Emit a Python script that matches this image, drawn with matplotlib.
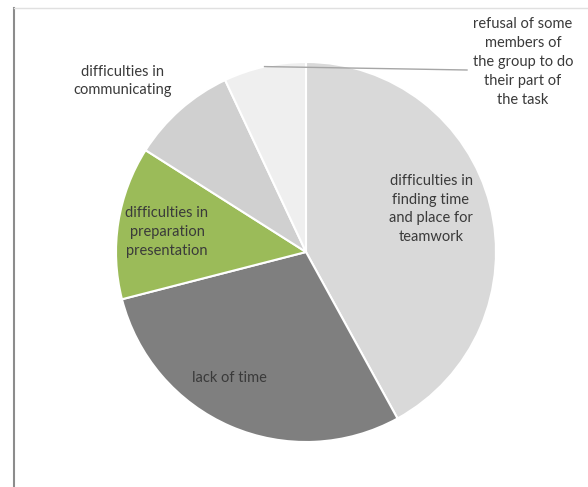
import matplotlib.pyplot as plt
import numpy as np

plt.rcParams['font.family'] = ['Lato', 'DejaVu Sans']

# Data (shares, percent)
categories = ['difficulties in\nfinding time\nand place for\nteamwork',
              'lack of time',
              'difficulties in\npreparation\npresentation',
              'difficulties in\ncommunicating',
              'refusal of some\nmembers of\nthe group to do\ntheir part of\nthe task']
shares = [42, 29, 13, 9, 7]
colors = ['#d9d9d9', '#7f7f7f', '#9bbb59', '#d0d0d0', '#efefef']

# Figure geometry in pixels
W, H = 588, 487
cx, cy, R = 306, 252, 190

fig = plt.figure(figsize=(W / 100, H / 100), dpi=100)
ax = fig.add_axes([0, 0, 1, 1])


def px(x, y):
    # pixel position -> data coords (pie radius = 1)
    return (x - cx) / R, (cy - y) / R


wedges, _ = ax.pie(shares, colors=colors, startangle=90, counterclock=False,
                   radius=1, wedgeprops=dict(edgecolor='white', linewidth=1.5))

ax.set_xlim(px(0, 0)[0], px(W, 0)[0])
ax.set_ylim(px(0, H)[1], px(0, 0)[1])
ax.set_aspect('auto')
ax.axis('off')

# label positions (pixels)
label_pos = [(431, 209), (229, 378), (167, 232), (123, 81), (523, 62)]
text_kw = dict(ha='center', va='center', fontsize=10.5, color='#3a3a3a',
               linespacing=1.45)
for lab, (x, y) in zip(categories, label_pos):
    ax.text(*px(x, y), lab, **text_kw)

# leader line for the small slice
w = wedges[4]
mid = np.deg2rad((w.theta1 + w.theta2) / 2)
ax.plot([np.cos(mid), px(467, 70)[0]], [np.sin(mid), px(467, 70)[1]],
        color='#a6a6a6', linewidth=1)

# chart border fragments
fig.add_artist(plt.Line2D([14 / W, 14 / W], [0, 1 - 8 / H],
                          transform=fig.transFigure, color='#8c8c8c', lw=1.5))
fig.add_artist(plt.Line2D([14 / W, 1], [1 - 8 / H, 1 - 8 / H],
                          transform=fig.transFigure, color='#e0e0e0', lw=1))

plt.savefig('out.png', dpi=100)
